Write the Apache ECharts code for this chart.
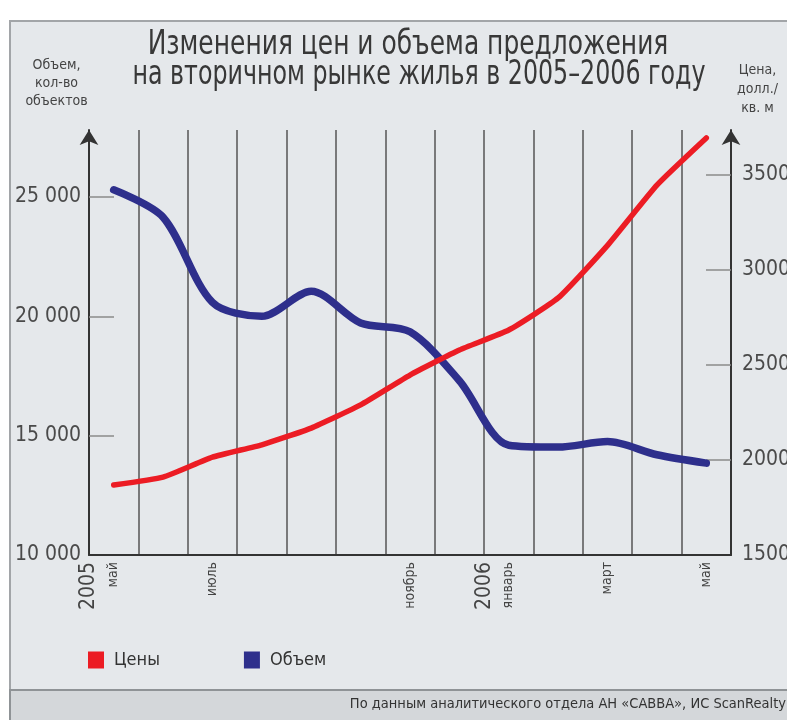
<!DOCTYPE html>
<html>
<head>
<meta charset="utf-8">
<script src="https://cdn.jsdelivr.net/npm/echarts@6/dist/echarts.min.js"></script>
<style>
  html, body { margin: 0; padding: 0; background: #fff; }
  #wrap { position: relative; width: 787px; height: 720px; overflow: hidden; }
  .panel { position: absolute; left: 9px; top: 20px; width: 800px; height: 668px;
           background: #e5e8eb; border: 2px solid #a2a5a8; }
  .foot { position: absolute; left: 9px; top: 689px; width: 800px; height: 40px;
          background: #d4d7da; border: 2px solid #8f9396; }
  #chart { position: absolute; left: 0; top: 0; width: 787px; height: 720px; }
</style>
</head>
<body>
<div id="wrap">
  <div class="panel"></div>
  <div class="foot"></div>
  <div id="chart"></div>
</div>
<script>
// месяцы май 2005 - май 2006
var months = ['май', 'июнь', 'июль', 'август', 'сентябрь', 'октябрь', 'ноябрь',
  'декабрь', 'январь', 'февраль', 'март', 'апрель', 'май']
var shownMonths = [0, 2, 6, 8, 10, 12]
// объем предложения, кол-во объектов
var volume = [25300, 24150, 20580, 20000, 21050, 19720, 19350, 17300, 14600, 14520, 14750, 14200, 13850]
// цена, долл./кв. м
var price = [1868, 1910, 2015, 2080, 2168, 2290, 2447, 2579, 2684, 2853, 3130, 3447, 3695]
var volumeTicks = [10000, 15000, 20000, 25000]
var priceTicks = [1500, 2000, 2500, 3000, 3500]
var years = [{ text: '2005', at: 0 }, { text: '2006', at: 8 }]

var FONT = "'DejaVu Sans Condensed', 'Liberation Sans', sans-serif"
var G = { left: 89, right: 56, top: 130, bottom: 165, outerBoundsMode: 'none' }
var step = (787 - G.left - G.right) / months.length

var chart = echarts.init(document.getElementById('chart'))

var fmt = function (v) {
  return String(v).replace(/\B(?=(\d{3})+(?!\d))/g, ' ')
}

var titleText = function (text, x, y, sx) {
  return {
    type: 'text', x: x, y: y, scaleX: sx, scaleY: 1,
    style: { text: text, font: '33px ' + FONT, fill: '#383838',
      align: 'center', verticalAlign: 'top' }
  }
}

var option = {
  backgroundColor: 'transparent',
  textStyle: { fontFamily: FONT },
  legend: {
    left: 88, top: 651, padding: 0,
    itemWidth: 16, itemHeight: 17, itemGap: 84,
    icon: 'rect',
    data: ['Цены', 'Объем'],
    textStyle: { fontFamily: FONT, fontSize: 18, color: '#333', padding: [0, 0, 0, 5] }
  },
  grid: G,
  xAxis: {
    type: 'category',
    data: months,
    boundaryGap: true,
    axisLine: { lineStyle: { color: '#333', width: 2 } },
    axisTick: { show: false },
    axisLabel: {
      rotate: 90, margin: 7, fontSize: 14, color: '#444', fontFamily: FONT,
      interval: function (i) { return shownMonths.indexOf(i) >= 0 }
    },
    splitLine: { show: true, interval: 0, lineStyle: { color: '#555', width: 1.5 } }
  },
  yAxis: [
    {
      type: 'value',
      min: 10000, max: 27805,
      name: 'Объем,\nкол-во\nобъектов',
      nameLocation: 'end', nameGap: 20,
      nameTextStyle: { fontFamily: FONT, fontSize: 14, lineHeight: 18, color: '#444',
        align: 'center', verticalAlign: 'bottom', padding: [0, 65, 0, 0] },
      axisLine: { show: true, symbol: ['none', 'arrow'], symbolSize: [14, 15],
        lineStyle: { color: '#333', width: 2 } },
      axisTick: { show: true, inside: true, length: 25, customValues: [15000, 20000, 25000],
        lineStyle: { color: '#8a8a8a', width: 1.5 } },
      axisLabel: { customValues: volumeTicks, formatter: fmt, margin: 8,
        fontFamily: FONT, fontSize: 21, color: '#4a4a4a' },
      splitLine: { show: false }
    },
    {
      type: 'value',
      min: 1500, max: 3737,
      name: 'Цена,\nдолл./\nкв. м',
      nameLocation: 'end', nameGap: 12,
      nameTextStyle: { fontFamily: FONT, fontSize: 14, lineHeight: 19, color: '#444',
        align: 'center', verticalAlign: 'bottom', padding: [0, 0, 0, 53] },
      axisLine: { show: true, symbol: ['none', 'arrow'], symbolSize: [14, 15],
        lineStyle: { color: '#333', width: 2 } },
      axisTick: { show: true, inside: true, length: 25, customValues: [2000, 2500, 3000, 3500],
        lineStyle: { color: '#8a8a8a', width: 1.5 } },
      axisLabel: { customValues: priceTicks, margin: 11,
        formatter: function (v) { return String(v) },
        fontFamily: FONT, fontSize: 21, color: '#4a4a4a' },
      splitLine: { show: false }
    }
  ],
  series: [
    {
      name: 'Цены',
      type: 'line',
      yAxisIndex: 1,
      data: price,
      smooth: 0.15,
      showSymbol: false,
      color: '#ec1c24',
      lineStyle: { width: 5.5, cap: 'round', join: 'round' },
      z: 3
    },
    {
      name: 'Объем',
      type: 'line',
      yAxisIndex: 0,
      data: volume,
      smooth: 0.3,
      showSymbol: false,
      color: '#2e2f8c',
      lineStyle: { width: 7.5, cap: 'round', join: 'round' },
      z: 2
    }
  ],
  graphic: [
    titleText('Изменения цен и объема предложения', 408, 29, 0.84),
    titleText('на вторичном рынке жилья в 2005–2006 году', 419, 59, 0.8)
  ].concat(years.map(function (y) {
    return {
      type: 'text',
      x: G.left + y.at * step, y: 562,
      rotation: Math.PI / 2,
      style: { text: y.text, font: '21px ' + FONT, fill: '#444',
        align: 'right', verticalAlign: 'middle' }
    }
  })).concat([{
    type: 'text',
    x: 786, y: 704,
    style: { text: 'По данным аналитического отдела АН «САВВА», ИС ScanRealty',
      font: '14.5px ' + FONT, fill: '#333', align: 'right', verticalAlign: 'middle' }
  }])
}

chart.setOption(option)
</script>
</body>
</html>
